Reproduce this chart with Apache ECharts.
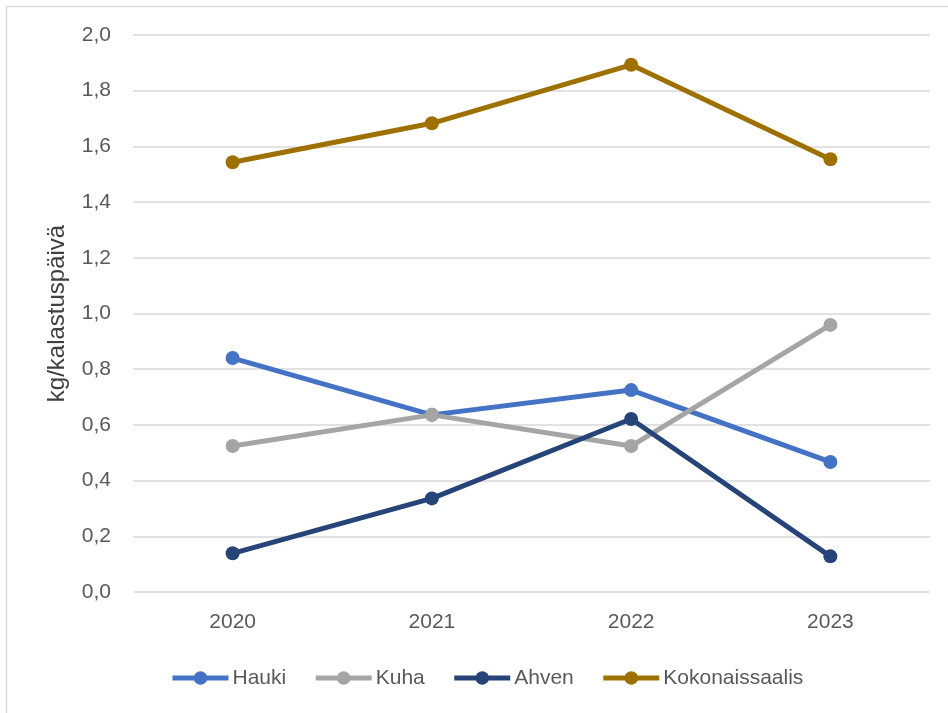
<!DOCTYPE html>
<html><head><meta charset="utf-8">
<script src="https://cdn.jsdelivr.net/npm/echarts@6/dist/echarts.min.js"></script>
<style>html,body{margin:0;padding:0;background:#fff}#c{width:948px;height:713px}</style>
</head><body><div id="c"></div>
<script>
const categories = ['2020', '2021', '2022', '2023'];
const hauki = [0.84, 0.636, 0.725, 0.467];
const kuha = [0.524, 0.636, 0.524, 0.959];
const ahven = [0.139, 0.336, 0.621, 0.128];
const kokonais = [1.543, 1.683, 1.893, 1.554];
const seriesNames = ['Hauki', 'Kuha', 'Ahven', 'Kokonaissaalis'];
const seriesColors = ['#4472C4', '#A5A5A5', '#264478', '#9E7000'];
const seriesData = [hauki, kuha, ahven, kokonais];

const font = 'Liberation Sans, Arial, sans-serif';
const chart = echarts.init(document.getElementById('c'));
chart.setOption({
  animation: false,
  graphic: [{type: 'rect', shape: {x: 6.5, y: 6.5, width: 1000, height: 1000}, style: {fill: 'none', stroke: '#d9d9d9', lineWidth: 1.5}}],
  grid: {left: 133, right: 18, top: 35, bottom: 121},
  legend: {
    top: 661, left: 165, itemGap: 27, itemWidth: 56, itemHeight: 17,
    lineStyle: {width: 5},
    textStyle: {fontFamily: font, fontSize: 21, color: '#595959', lineHeight: 24, padding: [0, 0, 0, -1]},
    data: seriesNames
  },
  xAxis: {
    type: 'category', data: categories, boundaryGap: true,
    axisLine: {show: false}, axisTick: {show: false},
    axisLabel: {fontFamily: font, fontSize: 21, color: '#595959', margin: 20}
  },
  yAxis: {
    type: 'value', min: 0, max: 2, interval: 0.2,
    name: 'kg/kalastuspäivä', nameLocation: 'middle', nameGap: 64,
    nameTextStyle: {fontFamily: font, fontSize: 24, color: '#404040'},
    axisLine: {show: false}, axisTick: {show: false},
    splitLine: {lineStyle: {color: '#d9d9d9', width: 1.5}},
    axisLabel: {fontFamily: font, fontSize: 21, color: '#595959', margin: 22,
      formatter: v => v.toFixed(1).replace('.', ',')}
  },
  series: seriesData.map((d, i) => ({
    name: seriesNames[i], type: 'line', data: d,
    symbol: 'circle', symbolSize: 14,
    lineStyle: {width: 5, color: seriesColors[i]},
    itemStyle: {color: seriesColors[i]}
  }))
});
</script></body></html>
